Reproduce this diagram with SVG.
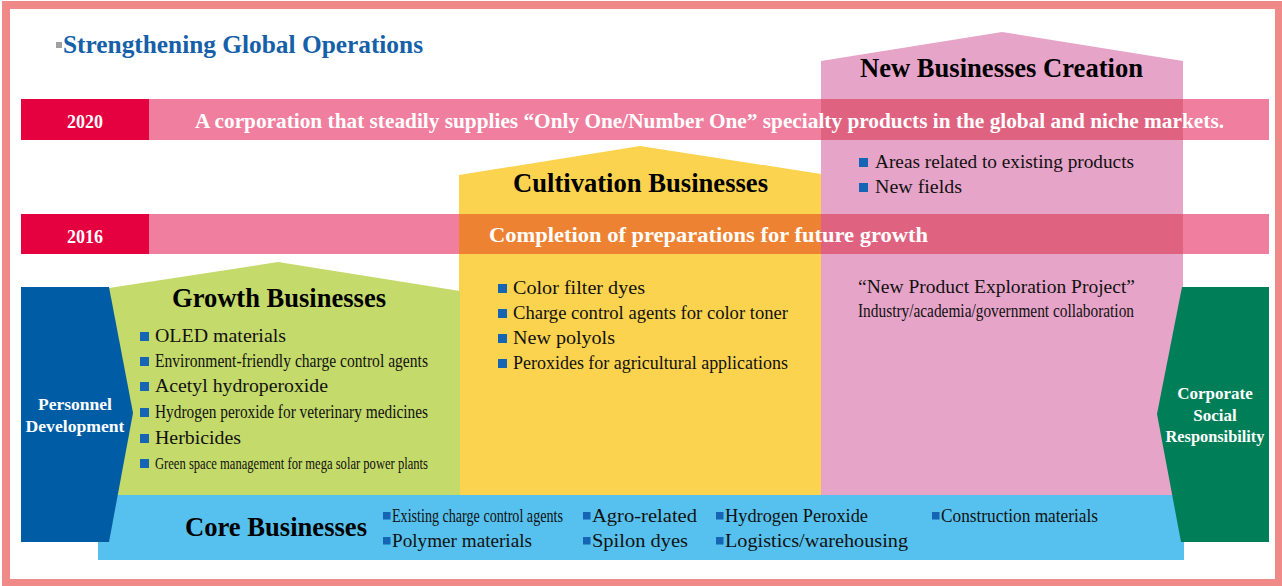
<svg xmlns="http://www.w3.org/2000/svg" width="1282" height="586" viewBox="0 0 1282 586">
  <style>
    text { font-family: "Liberation Serif", "Times New Roman", serif; }
    .b { font-weight: bold; }
    .head { font-size: 26.5px; font-weight: bold; fill: #000; }
    .item { fill: #111; }
    .w { fill: #fff; font-weight: bold; }
    .bul { fill: #1565B4; }
  </style>

  <!-- frame -->
  <rect x="0" y="0" width="1282" height="586" fill="#fff"/>
  <rect x="6" y="5" width="1273" height="578" fill="none" stroke="#F08A88" stroke-width="8"/>

  <!-- title -->
  <rect x="56" y="42" width="6" height="6" fill="#A0A0A0"/>
  <text x="63" y="53" class="b" font-size="25" fill="#1560A8" textLength="360" lengthAdjust="spacingAndGlyphs">Strengthening Global Operations</text>

  <!-- stage shapes -->
  <g id="new-businesses">
    <polygon points="821,61 1002,32 1183,61 1183,495 821,495" fill="#E6A4C8"/>
  </g>
  <g id="cultivation">
    <polygon points="459,175 640,146 821,174 821,495 459,495" fill="#FCD34E"/>
  </g>
  <g id="growth">
    <polygon points="109,288 278,262 460,291 460,495 109,495" fill="#C4DA6A"/>
  </g>

  <!-- milestone bars -->
  <g id="bar-2020">
    <rect x="21" y="99" width="128" height="41" fill="#E5003F"/>
    <rect x="149" y="99" width="1120" height="41" fill="#F07E9E"/>
    <rect x="821" y="99" width="362" height="41" fill="#DF6280"/>
    <text x="85" y="128" class="w" font-size="18" text-anchor="middle">2020</text>
    <text x="195" y="128" class="w" font-size="21" textLength="1029" lengthAdjust="spacingAndGlyphs">A corporation that steadily supplies “Only One/Number One” specialty products in the global and niche markets.</text>
  </g>
  <g id="bar-2016">
    <rect x="21" y="214" width="128" height="40" fill="#E5003F"/>
    <rect x="149" y="214" width="1120" height="40" fill="#F07E9E"/>
    <rect x="459" y="214" width="362" height="40" fill="#EE8233"/>
    <rect x="821" y="214" width="362" height="40" fill="#DF6280"/>
    <text x="85" y="243" class="w" font-size="18" text-anchor="middle">2016</text>
    <text x="489" y="242" class="w" font-size="21" textLength="439" lengthAdjust="spacingAndGlyphs">Completion of preparations for future growth</text>
  </g>

  <!-- stage labels and items -->
  <g id="new-businesses-text">
    <text x="860" y="77" class="head" textLength="283" lengthAdjust="spacingAndGlyphs">New Businesses Creation</text>
    <rect x="859" y="158" width="9" height="9" class="bul"/>
    <text x="875" y="168" class="item" font-size="19" textLength="259" lengthAdjust="spacingAndGlyphs">Areas related to existing products</text>
    <rect x="859" y="183" width="9" height="9" class="bul"/>
    <text x="875" y="193" class="item" font-size="19" textLength="87" lengthAdjust="spacingAndGlyphs">New fields</text>
    <text x="858" y="293" class="item" font-size="19.5" textLength="277" lengthAdjust="spacingAndGlyphs">“New Product Exploration Project”</text>
    <text x="858" y="317" class="item" font-size="18" textLength="276" lengthAdjust="spacingAndGlyphs">Industry/academia/government collaboration</text>
  </g>

  <g id="cultivation-text">
    <text x="513" y="192" class="head" textLength="255" lengthAdjust="spacingAndGlyphs">Cultivation Businesses</text>
    <rect x="498" y="284" width="9" height="9" class="bul"/>
    <text x="513" y="294" class="item" font-size="19" textLength="132" lengthAdjust="spacingAndGlyphs">Color filter dyes</text>
    <rect x="498" y="309" width="9" height="9" class="bul"/>
    <text x="513" y="319" class="item" font-size="19" textLength="275" lengthAdjust="spacingAndGlyphs">Charge control agents for color toner</text>
    <rect x="498" y="334" width="9" height="9" class="bul"/>
    <text x="513" y="344" class="item" font-size="19" textLength="102" lengthAdjust="spacingAndGlyphs">New polyols</text>
    <rect x="498" y="359" width="9" height="9" class="bul"/>
    <text x="513" y="369" class="item" font-size="19" textLength="275" lengthAdjust="spacingAndGlyphs">Peroxides for agricultural applications</text>
  </g>

  <g id="growth-text">
    <text x="172" y="307" class="head" textLength="214" lengthAdjust="spacingAndGlyphs">Growth Businesses</text>
    <rect x="140" y="332" width="9" height="9" class="bul"/>
    <text x="155" y="342" class="item" font-size="19.5" textLength="131" lengthAdjust="spacingAndGlyphs">OLED materials</text>
    <rect x="140" y="357" width="9" height="9" class="bul"/>
    <text x="155" y="367" class="item" font-size="18.5" textLength="273" lengthAdjust="spacingAndGlyphs">Environment-friendly charge control agents</text>
    <rect x="140" y="382" width="9" height="9" class="bul"/>
    <text x="155" y="392" class="item" font-size="19.5" textLength="173" lengthAdjust="spacingAndGlyphs">Acetyl hydroperoxide</text>
    <rect x="140" y="408" width="9" height="9" class="bul"/>
    <text x="155" y="418" class="item" font-size="18.5" textLength="273" lengthAdjust="spacingAndGlyphs">Hydrogen peroxide for veterinary medicines</text>
    <rect x="140" y="434" width="9" height="9" class="bul"/>
    <text x="155" y="444" class="item" font-size="19.5" textLength="86" lengthAdjust="spacingAndGlyphs">Herbicides</text>
    <rect x="140" y="459" width="9" height="9" class="bul"/>
    <text x="155" y="469" class="item" font-size="17" textLength="273" lengthAdjust="spacingAndGlyphs">Green space management for mega solar power plants</text>
  </g>

  <!-- core businesses -->
  <g id="core">
    <rect x="98" y="495" width="1086" height="65" fill="#56C1EE"/>
    <text x="185" y="536" class="head" textLength="182" lengthAdjust="spacingAndGlyphs">Core Businesses</text>
    <rect x="383" y="512" width="7.5" height="7.5" class="bul"/>
    <!-- condensed label: squeezed horizontally to fit its column -->
    <text transform="translate(392,522) scale(0.784,1)" class="item" font-size="18" textLength="218" lengthAdjust="spacingAndGlyphs">Existing charge control agents</text>
    <rect x="583" y="512" width="7.5" height="7.5" class="bul"/>
    <text x="592" y="522" class="item" font-size="19" textLength="105" lengthAdjust="spacingAndGlyphs">Agro-related</text>
    <rect x="716" y="512" width="7.5" height="7.5" class="bul"/>
    <text x="725" y="522" class="item" font-size="19" textLength="143" lengthAdjust="spacingAndGlyphs">Hydrogen Peroxide</text>
    <rect x="932" y="512" width="7.5" height="7.5" class="bul"/>
    <text x="941" y="522" class="item" font-size="18.5" textLength="157" lengthAdjust="spacingAndGlyphs">Construction materials</text>
    <rect x="383" y="537" width="7.5" height="7.5" class="bul"/>
    <text x="392" y="547" class="item" font-size="19" textLength="140" lengthAdjust="spacingAndGlyphs">Polymer materials</text>
    <rect x="583" y="537" width="7.5" height="7.5" class="bul"/>
    <text x="592" y="547" class="item" font-size="19" textLength="96" lengthAdjust="spacingAndGlyphs">Spilon dyes</text>
    <rect x="716" y="537" width="7.5" height="7.5" class="bul"/>
    <text x="725" y="547" class="item" font-size="19" textLength="183" lengthAdjust="spacingAndGlyphs">Logistics/warehousing</text>
  </g>

  <!-- side pillars -->
  <g id="personnel">
    <polygon points="21,287 109,287 133,413 109,542 21,542" fill="#005CA4"/>
    <text x="75" y="410" class="w" font-size="17.5" text-anchor="middle" textLength="74" lengthAdjust="spacingAndGlyphs">Personnel</text>
    <text x="75" y="432" class="w" font-size="17.5" text-anchor="middle" textLength="99" lengthAdjust="spacingAndGlyphs">Development</text>
  </g>
  <g id="csr">
    <polygon points="1182,287 1269,287 1269,542 1181,542 1157,414" fill="#007E57"/>
    <text x="1215" y="399" class="w" font-size="17" text-anchor="middle">Corporate</text>
    <text x="1215" y="421" class="w" font-size="17" text-anchor="middle">Social</text>
    <text x="1215" y="442" class="w" font-size="17" text-anchor="middle" textLength="99" lengthAdjust="spacingAndGlyphs">Responsibility</text>
  </g>
</svg>
